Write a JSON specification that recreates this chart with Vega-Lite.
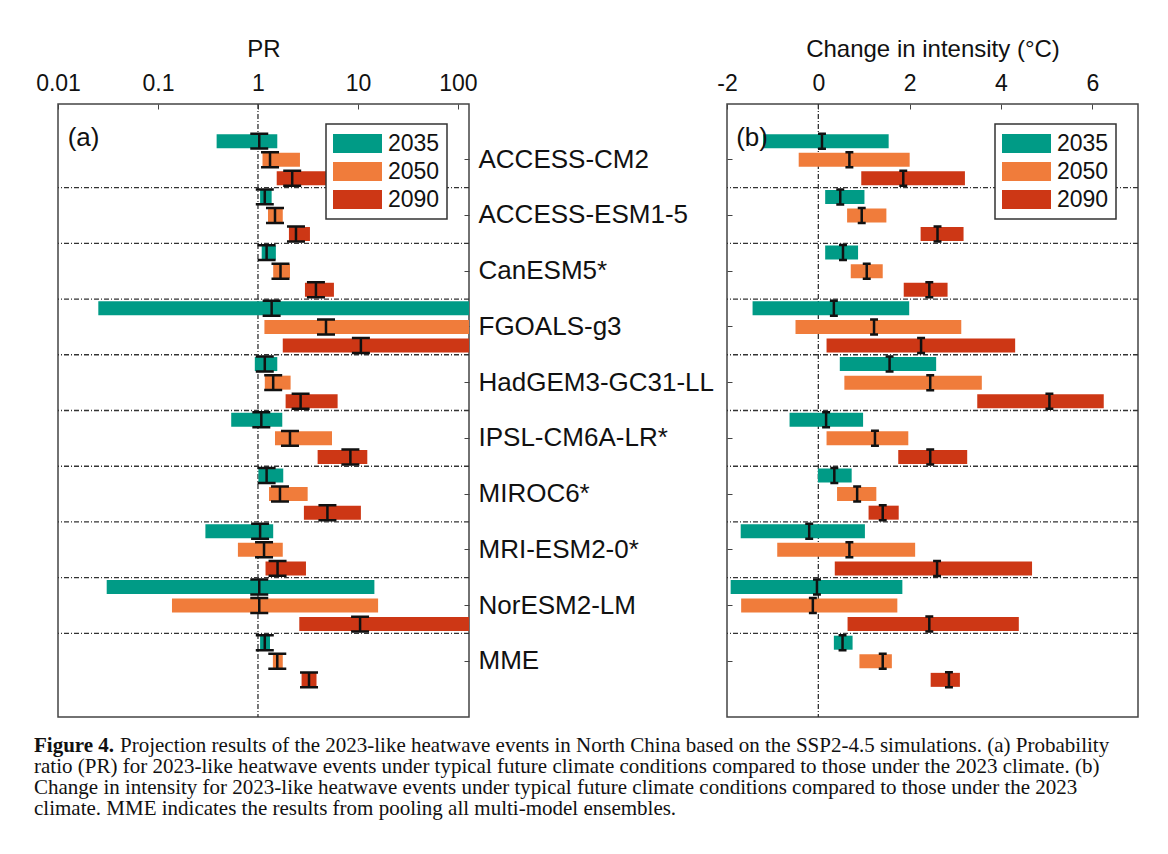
{
  "$schema": "https://vega.github.io/schema/vega-lite/v6.json",
  "background": "white",
  "padding": {"left": 34, "top": 36, "right": 10, "bottom": 10},
  "bounds": "full",
  "spacing": 15,
  "config": {
    "font": "Liberation Sans",
    "view": {"stroke": "#444", "strokeWidth": 1.5},
    "axis": {"labelFont": "Liberation Sans", "titleFont": "Liberation Sans", "labelColor": "#111", "titleColor": "#111", "tickColor": "#444", "domain": false, "grid": false, "labelFlush": false, "labelOverlap": false},
    "legend": {
      "orient": "none", "title": null, "labelFont": "Liberation Sans", "labelFontSize": 23, "labelColor": "#111",
      "symbolType": "M-2,-0.78H2V0.78H-2Z", "symbolSize": 600, "symbolStrokeWidth": 0, "symbolOpacity": 1, "symbolOffset": 12,
      "labelOffset": 18, "padding": 7, "rowPadding": 3, "strokeColor": "#333", "strokeWidth": 1.5, "fillColor": "white", "cornerRadius": 0
    }
  },
  "datasets": {
    "d": [
      {"model": "ACCESS-CM2", "year": "2035", "pr_lo": 0.386, "pr": 1.03, "pr_hi": 1.56, "di_lo": -1.21, "di": 0.08, "di_hi": 1.54},
      {"model": "ACCESS-CM2", "year": "2050", "pr_lo": 1.11, "pr": 1.32, "pr_hi": 2.63, "di_lo": -0.43, "di": 0.68, "di_hi": 2.0},
      {"model": "ACCESS-CM2", "year": "2090", "pr_lo": 1.54, "pr": 2.2, "pr_hi": 5.3, "di_lo": 0.94, "di": 1.86, "di_hi": 3.21},
      {"model": "ACCESS-ESM1-5", "year": "2035", "pr_lo": 1.05, "pr": 1.17, "pr_hi": 1.37, "di_lo": 0.15, "di": 0.48, "di_hi": 1.01},
      {"model": "ACCESS-ESM1-5", "year": "2050", "pr_lo": 1.26, "pr": 1.48, "pr_hi": 1.77, "di_lo": 0.63, "di": 0.95, "di_hi": 1.49},
      {"model": "ACCESS-ESM1-5", "year": "2090", "pr_lo": 2.04, "pr": 2.4, "pr_hi": 3.31, "di_lo": 2.24, "di": 2.61, "di_hi": 3.18},
      {"model": "CanESM5*", "year": "2035", "pr_lo": 1.09, "pr": 1.22, "pr_hi": 1.51, "di_lo": 0.15, "di": 0.54, "di_hi": 0.87},
      {"model": "CanESM5*", "year": "2050", "pr_lo": 1.42, "pr": 1.68, "pr_hi": 2.09, "di_lo": 0.71, "di": 1.06, "di_hi": 1.41},
      {"model": "CanESM5*", "year": "2090", "pr_lo": 2.95, "pr": 3.8, "pr_hi": 5.75, "di_lo": 1.87, "di": 2.43, "di_hi": 2.83},
      {"model": "FGOALS-g3", "year": "2035", "pr_lo": 0.0253, "pr": 1.37, "pr_hi": 200, "di_lo": -1.44, "di": 0.34, "di_hi": 1.99},
      {"model": "FGOALS-g3", "year": "2050", "pr_lo": 1.16, "pr": 4.79, "pr_hi": 200, "di_lo": -0.5, "di": 1.22, "di_hi": 3.13},
      {"model": "FGOALS-g3", "year": "2090", "pr_lo": 1.77, "pr": 10.7, "pr_hi": 200, "di_lo": 0.18, "di": 2.25, "di_hi": 4.31},
      {"model": "HadGEM3-GC31-LL", "year": "2035", "pr_lo": 0.93, "pr": 1.17, "pr_hi": 1.56, "di_lo": 0.47, "di": 1.56, "di_hi": 2.58},
      {"model": "HadGEM3-GC31-LL", "year": "2050", "pr_lo": 1.17, "pr": 1.42, "pr_hi": 2.12, "di_lo": 0.57, "di": 2.45, "di_hi": 3.58},
      {"model": "HadGEM3-GC31-LL", "year": "2090", "pr_lo": 1.89, "pr": 2.67, "pr_hi": 6.26, "di_lo": 3.48, "di": 5.06, "di_hi": 6.25},
      {"model": "IPSL-CM6A-LR*", "year": "2035", "pr_lo": 0.54, "pr": 1.08, "pr_hi": 1.75, "di_lo": -0.63, "di": 0.17, "di_hi": 0.98},
      {"model": "IPSL-CM6A-LR*", "year": "2050", "pr_lo": 1.48, "pr": 2.09, "pr_hi": 5.5, "di_lo": 0.18, "di": 1.24, "di_hi": 1.97},
      {"model": "IPSL-CM6A-LR*", "year": "2090", "pr_lo": 3.95, "pr": 8.4, "pr_hi": 12.4, "di_lo": 1.75, "di": 2.45, "di_hi": 3.26},
      {"model": "MIROC6*", "year": "2035", "pr_lo": 1.01, "pr": 1.22, "pr_hi": 1.79, "di_lo": -0.01, "di": 0.35, "di_hi": 0.73},
      {"model": "MIROC6*", "year": "2050", "pr_lo": 1.29, "pr": 1.66, "pr_hi": 3.14, "di_lo": 0.41, "di": 0.85, "di_hi": 1.27},
      {"model": "MIROC6*", "year": "2090", "pr_lo": 2.88, "pr": 4.95, "pr_hi": 10.7, "di_lo": 1.1, "di": 1.41, "di_hi": 1.76},
      {"model": "MRI-ESM2-0*", "year": "2035", "pr_lo": 0.298, "pr": 1.05, "pr_hi": 1.42, "di_lo": -1.7, "di": -0.2, "di_hi": 1.02},
      {"model": "MRI-ESM2-0*", "year": "2050", "pr_lo": 0.63, "pr": 1.15, "pr_hi": 1.77, "di_lo": -0.9, "di": 0.68, "di_hi": 2.12},
      {"model": "MRI-ESM2-0*", "year": "2090", "pr_lo": 1.19, "pr": 1.57, "pr_hi": 3.02, "di_lo": 0.36, "di": 2.6, "di_hi": 4.68},
      {"model": "NorESM2-LM", "year": "2035", "pr_lo": 0.0307, "pr": 1.03, "pr_hi": 14.6, "di_lo": -1.92, "di": -0.03, "di_hi": 1.84},
      {"model": "NorESM2-LM", "year": "2050", "pr_lo": 0.138, "pr": 1.03, "pr_hi": 15.9, "di_lo": -1.69, "di": -0.12, "di_hi": 1.73},
      {"model": "NorESM2-LM", "year": "2090", "pr_lo": 2.59, "pr": 10.5, "pr_hi": 200, "di_lo": 0.64, "di": 2.43, "di_hi": 4.39},
      {"model": "MME", "year": "2035", "pr_lo": 1.05, "pr": 1.17, "pr_hi": 1.32, "di_lo": 0.34, "di": 0.53, "di_hi": 0.75},
      {"model": "MME", "year": "2050", "pr_lo": 1.41, "pr": 1.56, "pr_hi": 1.77, "di_lo": 0.9, "di": 1.41, "di_hi": 1.61},
      {"model": "MME", "year": "2090", "pr_lo": 2.73, "pr": 3.24, "pr_hi": 3.85, "di_lo": 2.46, "di": 2.86, "di_hi": 3.1}
    ],
    "caption": [
      {"line": 1, "part": "head", "text": "Figure 4."},
      {"line": 1, "part": "body", "text": "Projection results of the 2023-like heatwave events in North China based on the SSP2-4.5 simulations. (a) Probability"},
      {"line": 2, "part": "body", "text": "ratio (PR) for 2023-like heatwave events under typical future climate conditions compared to those under the 2023 climate. (b)"},
      {"line": 3, "part": "body", "text": "Change in intensity for 2023-like heatwave events under typical future climate conditions compared to those under the 2023"},
      {"line": 4, "part": "body", "text": "climate. MME indicates the results from pooling all multi-model ensembles."}
    ]
  },
  "vconcat": [
    {
      "hconcat": [
        {
          "width": 411, "height": 613,
          "data": {"name": "d"},
          "encoding": {
            "y": {"field": "model", "type": "nominal", "title": null,
              "sort": ["ACCESS-CM2", "ACCESS-ESM1-5", "CanESM5*", "FGOALS-g3", "HadGEM3-GC31-LL", "IPSL-CM6A-LR*", "MIROC6*", "MRI-ESM2-0*", "NorESM2-LM", "MME"],
              "scale": {"paddingInner": 0, "paddingOuter": 0.5},
              "axis": {"orient": "right", "labelFontSize": 26, "labelPadding": 14, "tickSize": -5, "labelLimit": 0, "labelAlign": "left"}}
          },
          "layer": [
            {
              "transform": [{"filter": "datum.model !== 'ACCESS-CM2' && datum.year === '2035'"}],
              "mark": {"type": "rule", "color": "#333", "strokeWidth": 1.3, "strokeDash": [5, 2, 1, 2]},
              "encoding": {
                "y": {"field": "model", "type": "nominal", "bandPosition": 0, "title": null,
                  "sort": ["ACCESS-CM2", "ACCESS-ESM1-5", "CanESM5*", "FGOALS-g3", "HadGEM3-GC31-LL", "IPSL-CM6A-LR*", "MIROC6*", "MRI-ESM2-0*", "NorESM2-LM", "MME"],
                  "scale": {"paddingInner": 0, "paddingOuter": 0.5},
                  "axis": {"orient": "right", "labelFontSize": 26, "labelPadding": 14, "tickSize": -5, "labelLimit": 0, "labelAlign": "left"}}
              }
            },
            {
              "transform": [{"filter": "datum.model === 'MME' && datum.year === '2035'"}],
              "mark": {"type": "rule", "color": "#333", "strokeWidth": 1.3, "strokeDash": [5, 2, 1, 2]},
              "encoding": {"x": {"datum": 1, "type": "quantitative"}, "y": null}
            },
            {
              "mark": {"type": "bar", "height": 14, "clip": true},
              "encoding": {
                "yOffset": {"field": "year", "type": "nominal", "scale": {"paddingInner": 0, "paddingOuter": 0}},
                "x": {"field": "pr_lo", "type": "quantitative",
                  "scale": {"type": "log", "domain": [0.01, 129], "nice": false},
                  "axis": {"orient": "top", "values": [0.01, 0.1, 1, 10, 100], "format": "~g", "title": "PR", "titleFontSize": 24, "titleFontWeight": "normal", "titlePadding": 11, "labelFontSize": 23, "tickSize": -5, "labelPadding": 14}},
                "x2": {"field": "pr_hi"},
                "color": {"field": "year", "type": "nominal", "scale": {"range": ["#009B86", "#F07C3B", "#CD3715"]},
                  "legend": {"legendX": 268, "legendY": 20}}
              }
            },
            {
              "mark": {"type": "point", "shape": "M-1,-0.83L1,-0.83M0,-0.83L0,0.83M-1,0.83L1,0.83", "size": 324, "filled": false, "color": "#111", "strokeWidth": 2.5, "opacity": 1},
              "encoding": {
                "yOffset": {"field": "year", "type": "nominal"},
                "x": {"field": "pr", "type": "quantitative"}
              }
            },
            {
              "transform": [{"filter": "datum.model === 'ACCESS-CM2' && datum.year === '2035'"}],
              "mark": {"type": "text", "text": "(a)", "fontSize": 26, "align": "left", "baseline": "middle", "color": "#111", "dy": -3},
              "encoding": {
                "x": {"datum": 0.0125, "type": "quantitative"},
                "yOffset": {"field": "year", "type": "nominal"}
              }
            }
          ]
        },
        {
          "width": 411, "height": 613,
          "data": {"name": "d"},
          "encoding": {
            "y": {"field": "model", "type": "nominal", "title": null,
              "sort": ["ACCESS-CM2", "ACCESS-ESM1-5", "CanESM5*", "FGOALS-g3", "HadGEM3-GC31-LL", "IPSL-CM6A-LR*", "MIROC6*", "MRI-ESM2-0*", "NorESM2-LM", "MME"],
              "scale": {"paddingInner": 0, "paddingOuter": 0.5},
              "axis": {"orient": "left", "labels": false, "tickSize": -5}}
          },
          "layer": [
            {
              "transform": [{"filter": "datum.model !== 'ACCESS-CM2' && datum.year === '2035'"}],
              "mark": {"type": "rule", "color": "#333", "strokeWidth": 1.3, "strokeDash": [5, 2, 1, 2]},
              "encoding": {
                "y": {"field": "model", "type": "nominal", "bandPosition": 0, "title": null,
                  "sort": ["ACCESS-CM2", "ACCESS-ESM1-5", "CanESM5*", "FGOALS-g3", "HadGEM3-GC31-LL", "IPSL-CM6A-LR*", "MIROC6*", "MRI-ESM2-0*", "NorESM2-LM", "MME"],
                  "scale": {"paddingInner": 0, "paddingOuter": 0.5},
                  "axis": {"orient": "left", "labels": false, "tickSize": -5}}
              }
            },
            {
              "transform": [{"filter": "datum.model === 'MME' && datum.year === '2035'"}],
              "mark": {"type": "rule", "color": "#333", "strokeWidth": 1.3, "strokeDash": [5, 2, 1, 2]},
              "encoding": {"x": {"datum": 0, "type": "quantitative"}, "y": null}
            },
            {
              "mark": {"type": "bar", "height": 14, "clip": true},
              "encoding": {
                "yOffset": {"field": "year", "type": "nominal", "scale": {"paddingInner": 0, "paddingOuter": 0}},
                "x": {"field": "di_lo", "type": "quantitative",
                  "scale": {"domain": [-2, 7], "nice": false, "zero": false},
                  "axis": {"orient": "top", "values": [-2, 0, 2, 4, 6], "labelExpr": "'' + datum.value", "title": "Change in intensity (°C)", "titleFontSize": 24, "titleFontWeight": "normal", "titlePadding": 11, "labelFontSize": 23, "tickSize": -5, "labelPadding": 14}},
                "x2": {"field": "di_hi"},
                "color": {"field": "year", "type": "nominal", "scale": {"range": ["#009B86", "#F07C3B", "#CD3715"]},
                  "legend": {"legendX": 268, "legendY": 20}}
              }
            },
            {
              "mark": {"type": "point", "shape": "M-0.53,-1L0.53,-1M0,-1L0,1M-0.53,1L0.53,1", "size": 225, "filled": false, "color": "#111", "strokeWidth": 2.5, "opacity": 1},
              "encoding": {
                "yOffset": {"field": "year", "type": "nominal"},
                "x": {"field": "di", "type": "quantitative"}
              }
            },
            {
              "transform": [{"filter": "datum.model === 'ACCESS-CM2' && datum.year === '2035'"}],
              "mark": {"type": "text", "text": "(b)", "fontSize": 26, "align": "left", "baseline": "middle", "color": "#111", "dy": -3},
              "encoding": {
                "x": {"datum": -1.8, "type": "quantitative"},
                "yOffset": {"field": "year", "type": "nominal"}
              }
            }
          ]
        }
      ],
      "spacing": 258,
      "bounds": "flush",
      "resolve": {"scale": {"color": "independent"}, "legend": {"color": "independent"}}
    },
    {
      "width": 1080, "height": 85,
      "view": {"stroke": null},
      "data": {"name": "caption"},
      "encoding": {
        "y": {"field": "line", "type": "ordinal", "scale": {"type": "point", "padding": 0.5, "domain": [1, 2, 3, 4]}, "axis": null},
        "text": {"field": "text"}
      },
      "layer": [
        {
          "transform": [{"filter": "datum.part === 'head'"}],
          "mark": {"type": "text", "font": "Liberation Serif", "fontSize": 21, "fontWeight": "bold", "align": "left", "baseline": "middle", "x": 0, "dx": -24, "color": "#111"}
        },
        {
          "transform": [{"filter": "datum.part === 'body' && datum.line === 1"}],
          "mark": {"type": "text", "font": "Liberation Serif", "fontSize": 21, "align": "left", "baseline": "middle", "x": 0, "dx": 62, "color": "#111"}
        },
        {
          "transform": [{"filter": "datum.line > 1"}],
          "mark": {"type": "text", "font": "Liberation Serif", "fontSize": 21, "align": "left", "baseline": "middle", "x": 0, "dx": -24, "color": "#111"}
        }
      ]
    }
  ]
}
